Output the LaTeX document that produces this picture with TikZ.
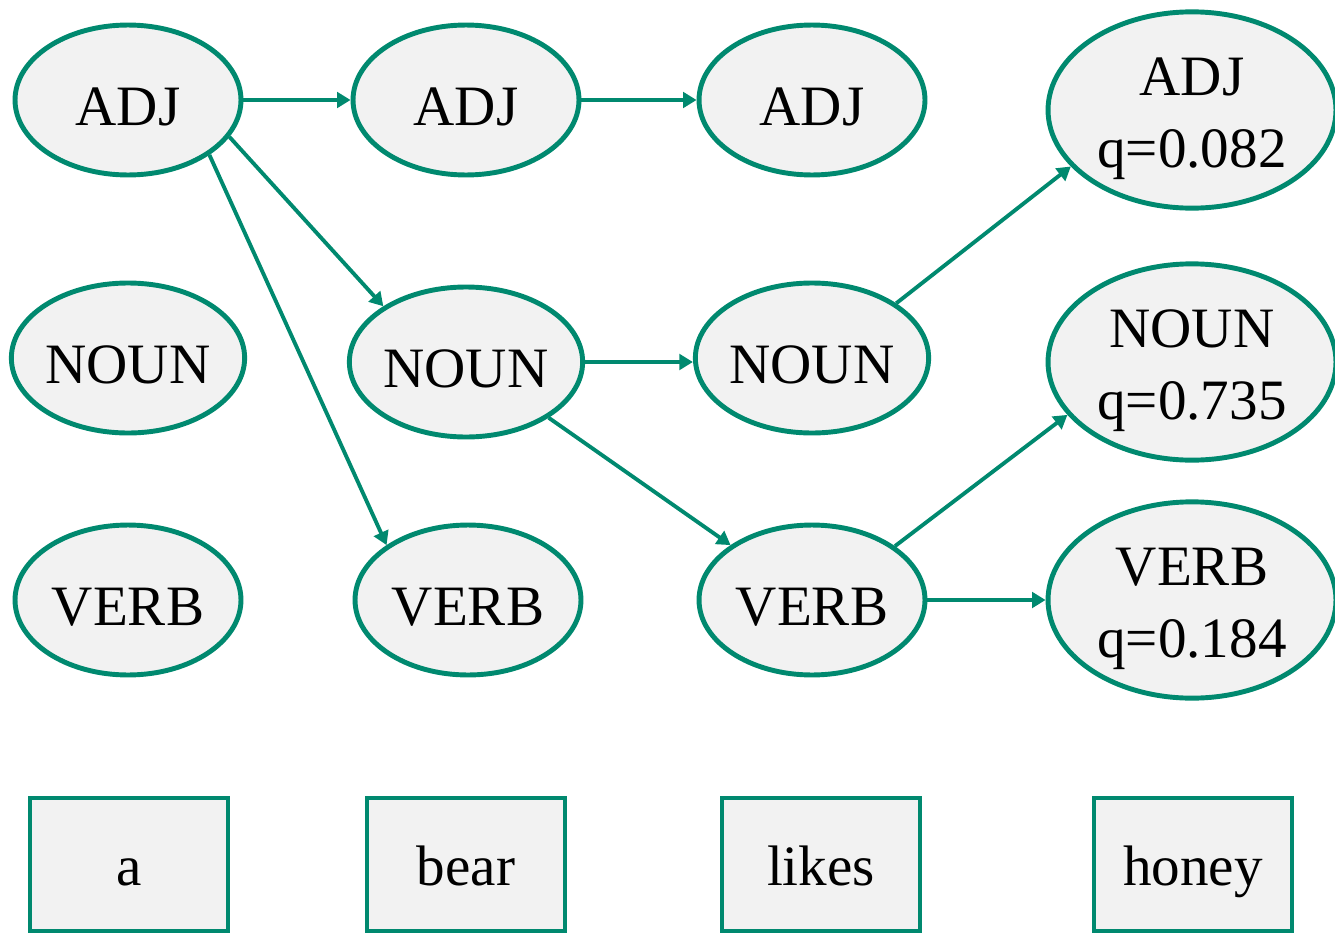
\documentclass[tikz,border=0pt]{standalone}
\usepackage{fontspec}
\setmainfont{Liberation Serif}
\usetikzlibrary{arrows.meta, shapes.geometric}
\definecolor{tagfill}{HTML}{F2F2F2}
\definecolor{tagborder}{HTML}{00896F}

\begin{document}
\begin{tikzpicture}[x=0.02cm, y=-0.02cm, >={Triangle[length=0.27cm, width=0.31cm]},
    tag/.style={ellipse, draw=tagborder, fill=tagfill, line width=2.8pt,
      minimum width=4.52cm, minimum height=3cm, inner sep=0pt,
      font=\fontsize{32.5}{41}\selectfont, text height=37.4pt, text depth=8.1pt},
    best/.style={tag, minimum width=5.76cm, minimum height=3.82cm, align=center,
      text height=72pt, text depth=7pt},
    word/.style={rectangle, draw=tagborder, fill=tagfill, line width=2.8pt,
      minimum width=3.96cm, minimum height=2.66cm,
      font=\fontsize{32.5}{41}\selectfont, text height=32.5pt, text depth=8.1pt},
    edge/.style={->, tagborder, line width=2.2pt}]
  \useasboundingbox (0,0) rectangle (1335,933);

  % tag lattice, one column per word
  \node[tag] (adj1) at (128,100) {ADJ};
  \node[tag] (noun1) at (128,358) {NOUN};
  \node[tag] (verb1) at (128,600) {VERB};
  \node[tag] (adj2) at (466,100) {ADJ};
  \node[tag] (noun2) at (466,362) {NOUN};
  \node[tag] (verb2) at (468,600) {VERB};
  \node[tag] (adj3) at (812,100) {ADJ};
  \node[tag] (noun3) at (812,358) {NOUN};
  \node[tag] (verb3) at (812,600) {VERB};
  \node[best] (adjq) at (1192,110) {ADJ\\q=0.082};
  \node[best] (nounq) at (1192,362) {NOUN\\q=0.735};
  \node[best] (verbq) at (1192,600) {VERB\\q=0.184};

  % the words
  \node[word] (wa) at (129,864.5) {a};
  \node[word] (wbear) at (466,864.5) {bear};
  \node[word] (wlikes) at (821,864.5) {likes};
  \node[word] (whoney) at (1193,864.5) {honey};

  \draw[edge] (adj1) -- (adj2);
  \draw[edge] (adj2) -- (adj3);
  \draw[edge] (adj1.-20) -- (noun2.146);
  \draw[edge] (adj1.-34) -- (verb2.146);
  \draw[edge] (noun2.east) -- (noun2.east -| noun3.west);
  \draw[edge] (noun2.-34) -- (verb3.146);
  \draw[edge] (noun3.33) -- (adjq.-155);
  \draw[edge] (verb3.33) -- (nounq.-157);
  \draw[edge] (verb3) -- (verbq);
\end{tikzpicture}
\end{document}
